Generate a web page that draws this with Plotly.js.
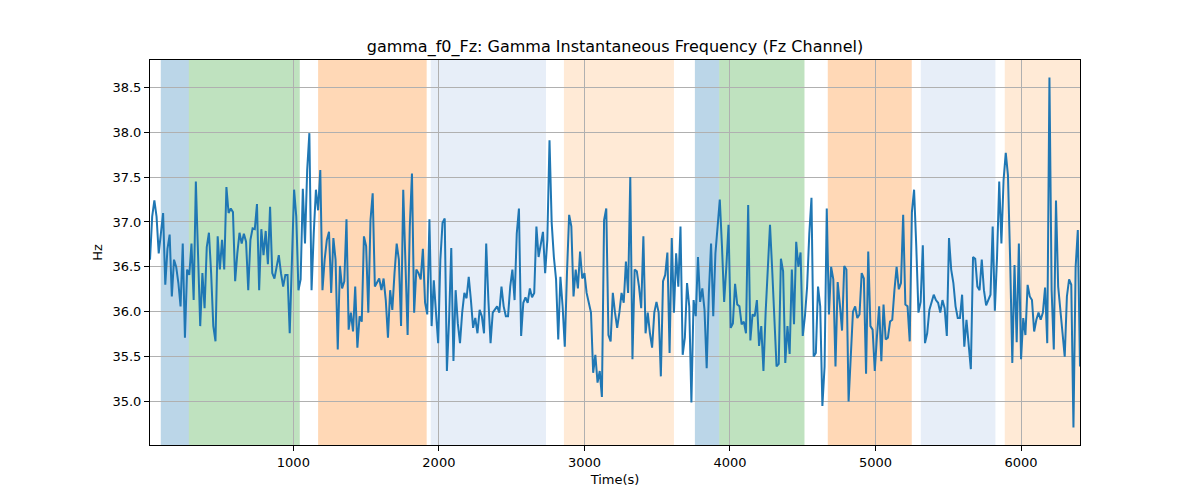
<!DOCTYPE html>
<html>
<head>
<meta charset="utf-8">
<script src="https://cdn.plot.ly/plotly-3.0.1.min.js"></script>
<style>
  body { margin: 0; background: #fff; }
  #chart { width: 1200px; height: 500px; }
</style>
</head>
<body>
<div id="chart"></div>
<script>
// sampled every 15 s
var t0 = 15, dt = 15;
var hz = [
  36.58, 37.06, 37.24, 37.06, 36.65, 36.9, 37.1, 36.3, 36.7, 36.86, 36.17, 36.58, 36.5, 36.32, 36.06, 36.76,
  35.71, 36.47, 36.41, 36.76, 36.13, 37.45, 36.5, 35.84, 36.43, 36.04, 36.72, 36.88, 36.43, 35.84, 35.67, 36.84,
  36.47, 36.8, 36.47, 37.39, 37.1, 37.15, 37.11, 36.34, 36.65, 36.88, 36.76, 36.87, 36.78, 36.24, 36.8, 36.93,
  36.92, 37.2, 36.24, 36.92, 36.63, 36.9, 36.53, 37.17,
  36.43, 36.37, 36.5, 36.63, 36.43, 36.28, 36.41, 36.41, 35.76, 36.58, 37.36, 37.06, 36.24, 36.36, 37.37, 36.76,
  37.58, 37.99, 36.24, 36.87, 37.36, 37.13, 37.58, 36.24, 36.58, 36.8, 36.89, 36.21, 36.82, 36.58, 35.58, 36.51,
  36.26, 36.34, 37.03, 35.8, 35.99, 35.78, 36.28, 35.6, 35.95, 35.89, 36.84, 36.73, 35.99, 37.02, 37.32, 36.28,
  36.32, 36.37, 36.24, 36.37, 36.13,
  35.71, 36.24, 36.02, 36.43, 36.76, 36.58, 35.84, 37.36, 36.5, 35.74, 36.95, 37.54, 35.99, 36.47, 36.43, 36.36,
  36.7, 36.1, 35.97, 37.03, 35.84, 36.35, 35.99, 35.65, 36.58, 36.99, 37.04, 35.34, 35.91, 36.71, 35.45, 36.24,
  35.87, 35.65, 35.99, 36.21, 36.15, 36.39, 36.13, 35.82, 35.93, 35.76, 36.02, 35.95, 35.76, 36.76, 36.13, 35.65,
  35.99, 36.02, 36.06, 35.99, 36.28,
  36.06, 35.95, 35.95, 36.28, 36.47, 36.13, 36.87, 37.15, 35.73, 36.1, 36.16, 36.1, 36.26, 36.16, 36.21, 36.95,
  36.61, 36.77, 36.89, 36.43, 36.8, 37.91, 36.99, 36.61, 36.36, 35.69, 36.39, 36.06, 35.61, 36.43, 37.08, 36.95,
  36.17, 36.47, 36.26, 36.67, 36.37, 36.43, 36.21, 36.1, 35.99, 35.32, 35.52, 35.21, 35.34, 35.05, 37.02, 37.15,
  35.74, 35.67, 36.21, 35.99,
  35.82, 35.99, 36.21, 36.1, 36.56, 36.21, 37.5, 35.47, 36.47, 36.45, 36.28, 36.04, 36.84, 35.76, 35.99, 35.76,
  35.6, 35.99, 36.11, 35.99, 35.28, 36.34, 36.41, 36.66, 35.54, 36.82, 35.99, 36.65, 36.28, 36.95, 35.52, 35.71,
  36.32, 36.06, 34.99, 36.13, 35.95, 36.61, 36.11, 36.26, 36.02, 35.37, 36.21, 36.76, 35.95, 36.65, 36.95, 37.25,
  36.73, 36.11, 36.5, 36.97, 35.82,
  35.87, 36.31, 36.08, 36.06, 35.86, 35.89, 35.76, 37.19, 35.68, 35.97, 35.95, 36.13, 35.62, 35.84, 35.34, 35.99,
  36.43, 36.97, 36.47, 35.87, 35.39, 35.42, 36.59, 36.45, 35.43, 35.84, 35.53, 36.47, 35.86, 36.78, 36.5, 36.66,
  35.73, 35.95, 36.28, 36.87, 37.27, 35.5, 35.54, 36.28, 36.06, 34.95, 35.39, 37.15, 35.97, 36.5, 36.36, 35.39,
  36.33, 36.08, 35.79, 36.51, 36.47,
  35.0, 35.54, 36.0, 36.06, 35.93, 35.97, 36.43, 36.37, 35.31, 36.67, 35.84, 35.8, 35.34, 35.73, 36.06, 35.45,
  36.08, 35.69, 35.71, 35.89, 35.91, 36.24, 36.5, 36.25, 36.32, 37.08, 36.08, 36.06, 35.67, 37.11, 37.36, 36.73,
  35.99, 36.11, 36.74, 35.65, 35.76, 36.02, 36.1, 36.19, 36.13, 36.1, 35.99, 36.13, 36.04, 35.73, 36.82, 36.47,
  36.32, 36.06, 35.93, 35.93, 36.19, 35.61,
  35.91, 35.58, 35.36, 36.61, 36.59, 36.28, 36.24, 36.58, 36.24, 36.07, 36.13, 36.19, 36.95, 36.01, 36.61, 37.45,
  36.76, 37.47, 37.77, 37.52, 36.58, 35.43, 36.52, 35.66, 36.76, 35.47, 35.93, 35.74, 36.3, 36.17, 36.13, 35.78,
  35.91, 35.99, 35.91, 35.99, 36.27, 35.65, 38.61, 36.24, 35.58, 37.24, 36.28, 35.97, 35.76, 35.5, 36.17, 36.36,
  36.3, 34.71, 36.5, 36.91, 35.39
];
var times = hz.map(function(v, i){ return t0 + i * dt; });

// shaded segments
var bandStart = [89, 282, 1170, 1944, 2859, 3759, 3926, 4672, 5311, 5888];
var bandEnd   = [282, 1044, 1916, 2736, 3615, 3926, 4512, 5249, 5824, 6405];
var bandColor = ['rgba(31,119,180,0.3)', 'rgba(44,160,44,0.3)', 'rgba(255,127,14,0.3)',
                 'rgba(174,199,232,0.3)', 'rgba(255,187,120,0.3)',
                 'rgba(31,119,180,0.3)', 'rgba(44,160,44,0.3)', 'rgba(255,127,14,0.3)',
                 'rgba(174,199,232,0.3)', 'rgba(255,187,120,0.3)'];

var xTicks = [1000, 2000, 3000, 4000, 5000, 6000];
var yTicks = [35.0, 35.5, 36.0, 36.5, 37.0, 37.5, 38.0, 38.5];

var shapes = bandStart.map(function(s, i){
  return {
    type: 'rect', xref: 'x', yref: 'paper', x0: s, x1: bandEnd[i], y0: 0, y1: 1,
    fillcolor: bandColor[i], line: {width: 0}, layer: 'below'
  };
});

var data = [{
  x: times, y: hz, type: 'scatter', mode: 'lines',
  line: {color: '#1f77b4', width: 2}, hoverinfo: 'skip'
}];

var axisCommon = {
  showline: true, linecolor: '#000', linewidth: 1, mirror: true,
  ticks: 'outside', ticklen: 5, tickwidth: 1, tickcolor: '#000',
  showgrid: true, gridcolor: '#b0b0b0', gridwidth: 1, zeroline: false,
  tickfont: {size: 13, color: '#000'}
};

var layout = {
  width: 1200, height: 500,
  font: {family: 'DejaVu Sans, sans-serif', color: '#000'},
  paper_bgcolor: '#fff', plot_bgcolor: '#fff',
  margin: {l: 150, r: 120, t: 60, b: 55, pad: 0},
  title: {
    text: 'gamma_f0_Fz: Gamma Instantaneous Frequency (Fz Channel)',
    font: {size: 16, color: '#000'}, x: 0.5, xref: 'paper', y: 0.908, yanchor: 'middle'
  },
  xaxis: Object.assign({}, axisCommon, {
    range: [t0, t0 + (hz.length - 1) * dt],
    tickvals: xTicks, ticktext: xTicks.map(String),
    title: {text: 'Time(s)', font: {size: 13}, standoff: 6}
  }),
  yaxis: Object.assign({}, axisCommon, {
    range: [34.515, 38.805],
    tickvals: yTicks, ticktext: yTicks.map(function(v){ return v.toFixed(1); }),
    title: {text: 'Hz', font: {size: 13}, standoff: 6}
  }),
  shapes: shapes,
  showlegend: false
};

Plotly.newPlot('chart', data, layout, {displayModeBar: false, staticPlot: true});
</script>
</body>
</html>
